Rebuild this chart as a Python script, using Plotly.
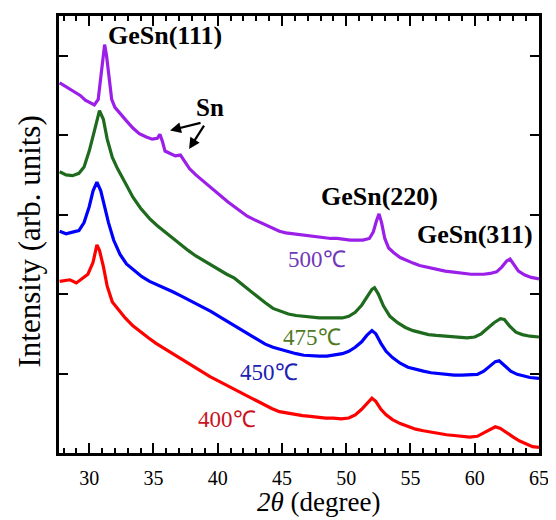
import plotly.graph_objects as go

# ---------------- data ----------------
x_400 = [27.7, 28.5, 29.0, 29.5, 29.9, 30.3, 30.6, 30.8, 31.1, 31.4, 31.8, 32.3, 32.8, 33.4, 34.0,
         34.6, 35.2, 35.8, 36.4, 37.0, 37.6, 38.2, 38.8, 39.4, 40.0, 40.6, 41.2, 41.8, 42.4, 43.0,
         43.6, 44.2, 44.8, 45.4, 46.0, 46.6, 47.2, 47.8, 48.4, 49.0, 49.6, 50.2, 50.7, 51.2, 51.6,
         52.0, 52.3, 52.7, 53.1, 53.6, 54.2, 54.8, 55.4, 56.0, 56.6, 57.2, 57.8, 58.4, 59.0, 59.6,
         60.2, 60.7, 61.2, 61.6, 62.0, 62.5, 63.0, 63.5, 64.0, 64.5, 65.0]
y_400 = [2.16, 2.18, 2.14, 2.20, 2.25, 2.40, 2.62, 2.55, 2.35, 2.10, 1.90, 1.80, 1.70, 1.60, 1.52,
         1.45, 1.38, 1.32, 1.25, 1.20, 1.14, 1.08, 1.02, 0.96, 0.91, 0.86, 0.80, 0.75, 0.70, 0.65,
         0.60, 0.56, 0.52, 0.50, 0.48, 0.47, 0.46, 0.45, 0.44, 0.44, 0.43, 0.44, 0.48, 0.55, 0.62,
         0.69, 0.65, 0.55, 0.48, 0.42, 0.37, 0.33, 0.30, 0.28, 0.26, 0.25, 0.23, 0.22, 0.21, 0.20,
         0.21, 0.25, 0.30, 0.33, 0.31, 0.25, 0.20, 0.15, 0.11, 0.08, 0.07]

x_450 = [27.7, 28.2, 28.7, 29.2, 29.6, 30.0, 30.3, 30.6, 30.9, 31.2, 31.5, 31.9, 32.4, 32.9, 33.5,
         34.1, 34.7, 35.3, 35.9, 36.5, 37.1, 37.7, 38.3, 38.9, 39.5, 40.1, 40.7, 41.3, 41.9, 42.5,
         43.1, 43.7, 44.3, 44.9, 45.5, 46.1, 46.7, 47.3, 47.9, 48.5, 49.1, 49.7, 50.2, 50.7, 51.2,
         51.6, 52.0, 52.3, 52.7, 53.1, 53.6, 54.2, 54.8, 55.4, 56.0, 56.6, 57.2, 57.8, 58.4, 59.0,
         59.6, 60.2, 60.7, 61.2, 61.6, 61.9, 62.3, 62.8, 63.3, 63.8, 64.3, 65.0]
y_450 = [2.79, 2.76, 2.78, 2.80, 2.90, 3.10, 3.30, 3.41, 3.30, 3.10, 2.90, 2.68, 2.50, 2.38, 2.30,
         2.22, 2.16, 2.12, 2.08, 2.03, 1.98, 1.93, 1.89, 1.84, 1.78, 1.72, 1.66, 1.60, 1.54, 1.48,
         1.42, 1.37, 1.33, 1.30, 1.27, 1.25, 1.23, 1.22, 1.22, 1.22, 1.23, 1.25, 1.28, 1.33, 1.40,
         1.48, 1.54, 1.50, 1.38, 1.28, 1.20, 1.13, 1.08, 1.05, 1.03, 1.01, 1.00, 0.99, 0.98, 0.98,
         0.98, 0.99, 1.03, 1.10, 1.15, 1.16, 1.10, 1.03, 0.99, 0.97, 0.95, 0.94]

x_475 = [27.7, 28.2, 28.7, 29.2, 29.6, 30.0, 30.4, 30.8, 31.1, 31.4, 31.8, 32.2, 32.8, 33.4, 34.0,
         34.7, 35.3, 35.9, 36.5, 37.1, 37.7, 38.3, 38.9, 39.5, 40.1, 40.7, 41.3, 41.9, 42.5, 43.1,
         43.7, 44.3, 44.9, 45.5, 46.1, 46.7, 47.3, 47.9, 48.5, 49.1, 49.7, 50.2, 50.7, 51.2, 51.6,
         52.0, 52.2, 52.5, 52.9, 53.4, 54.0, 54.6, 55.2, 55.8, 56.4, 57.0, 57.6, 58.2, 58.8, 59.4,
         60.0, 60.5, 61.0, 61.5, 62.0, 62.3, 62.7, 63.2, 63.7, 64.3, 65.0]
y_475 = [3.54, 3.50, 3.49, 3.52, 3.60, 3.80, 4.05, 4.31, 4.20, 3.95, 3.72, 3.58, 3.40, 3.22, 3.08,
         2.95, 2.86, 2.78, 2.70, 2.62, 2.55, 2.48, 2.42, 2.36, 2.30, 2.25, 2.20, 2.12, 2.05, 1.97,
         1.89, 1.82, 1.78, 1.75, 1.73, 1.72, 1.71, 1.70, 1.70, 1.70, 1.70, 1.72, 1.77, 1.86, 1.96,
         2.06, 2.08, 2.00, 1.85, 1.72, 1.64, 1.58, 1.54, 1.51, 1.49, 1.48, 1.47, 1.46, 1.45, 1.45,
         1.46, 1.50, 1.57, 1.64, 1.69, 1.68, 1.60, 1.52, 1.49, 1.47, 1.46]

x_500 = [27.7, 28.1, 28.5, 28.9, 29.3, 29.7, 30.1, 30.4, 30.7, 30.9, 31.1, 31.2, 31.35, 31.55, 31.75,
         32.0, 32.4, 32.9, 33.4, 33.9, 34.4, 34.9, 35.3, 35.5, 35.7, 35.9, 36.3, 36.7, 37.1, 37.4,
         37.8, 38.3, 38.8, 39.3, 39.8, 40.3, 40.8, 41.3, 41.8, 42.3, 42.8, 43.3, 43.8, 44.3, 44.8,
         45.3, 45.8, 46.3, 46.8, 47.3, 47.8, 48.3, 48.8, 49.3, 49.8, 50.3, 50.8, 51.3, 51.8, 52.1,
         52.35, 52.55, 52.75, 53.0, 53.3, 53.7, 54.2, 54.7, 55.2, 55.7, 56.2, 56.7, 57.2, 57.7, 58.2,
         58.7, 59.2, 59.7, 60.2, 60.7, 61.2, 61.7, 62.1, 62.5, 62.75, 63.0, 63.4, 63.9, 64.4, 65.0]
y_500 = [4.66, 4.62, 4.58, 4.55, 4.50, 4.44, 4.40, 4.38, 4.45, 4.70, 5.00, 5.14, 5.00, 4.70, 4.45,
         4.35, 4.27, 4.18, 4.09, 4.02, 3.98, 3.95, 3.96, 4.01, 3.92, 3.80, 3.77, 3.74, 3.75, 3.68,
         3.58, 3.50, 3.43, 3.36, 3.29, 3.23, 3.16, 3.10, 3.04, 2.98, 2.94, 2.90, 2.86, 2.82, 2.79,
         2.77, 2.76, 2.75, 2.74, 2.73, 2.72, 2.71, 2.70, 2.70, 2.69, 2.68, 2.68, 2.68, 2.70, 2.78,
         2.92, 3.01, 2.90, 2.70, 2.58, 2.52, 2.46, 2.42, 2.39, 2.36, 2.34, 2.32, 2.30, 2.29, 2.28,
         2.27, 2.26, 2.25, 2.25, 2.25, 2.26, 2.28, 2.34, 2.42, 2.44, 2.38, 2.29, 2.24, 2.21, 2.19]

x_ticks = [30, 35, 40, 45, 50, 55, 60, 65]
temp_labels = ["400℃", "450℃", "475℃", "500℃"]
peak_labels = ["GeSn(111)", "GeSn(220)", "GeSn(311)"]

# ---------------- figure ----------------
FONT = "Liberation Serif, Times New Roman, serif"
series = [
    (x_400, y_400, "#FF0000"),
    (x_450, y_450, "#0000FF"),
    (x_475, y_475, "#1E6B1E"),
    (x_500, y_500, "#9B1FE8"),
]

fig = go.Figure()
for xs, ys, col in series:
    fig.add_trace(go.Scatter(x=xs, y=ys, mode="lines",
                             line=dict(color=col, width=3.2), showlegend=False))

ann = []
for txt, (xx, yy) in zip(peak_labels, [(35.9, 5.25), (52.55, 3.225), (60.02, 2.75)]):
    ann.append(dict(x=xx, y=yy, xref="x", yref="y", text="<b>" + txt + "</b>", showarrow=False,
                    font=dict(family=FONT, size=26, color="black")))
ann.append(dict(x=39.4, y=4.35, xref="x", yref="y", text="<b>Sn</b>", showarrow=False,
                font=dict(family=FONT, size=25, color="black")))
for (hx, hy, tx, ty) in [(36.29, 4.06, 38.78, 4.16), (37.77, 3.825, 39.01, 4.14)]:
    ann.append(dict(x=hx, y=hy, ax=tx, ay=ty, xref="x", yref="y", axref="x", ayref="y",
                    text="", showarrow=True, arrowhead=2, arrowsize=1, arrowwidth=2.2,
                    arrowcolor="black"))
temp_pos = [(40.72, 0.425), (43.99, 1.01), (47.34, 1.46), (47.73, 2.44)]
temp_cols = ["#C8141E", "#2020B0", "#4F7A1F", "#7038B8"]
for txt, (xx, yy), col in zip(temp_labels, temp_pos, temp_cols):
    ann.append(dict(x=xx, y=yy, xref="x", yref="y", text=txt, showarrow=False,
                    font=dict(family=FONT, size=23, color=col)))
ann.append(dict(x=-0.0625, y=0.484, xref="paper", yref="paper", text="Intensity (arb. units)",
                textangle=-90, showarrow=False, xanchor="center", yanchor="middle",
                font=dict(family=FONT, size=31, color="black")))
ann.append(dict(x=0.54, y=-0.152, xref="paper", yref="paper", text="<i>2θ</i> (degree)",
                showarrow=False, xanchor="center", yanchor="bottom",
                font=dict(family=FONT, size=27, color="black")))

# the page body has an 8px margin, so the figure is shrunk by 8px and margins adjusted
fig.update_layout(
    width=548, height=512,
    margin=dict(l=51, r=17, t=5, b=67),
    plot_bgcolor="white", paper_bgcolor="white",
    annotations=ann,
    xaxis=dict(range=[27.65, 65], tickvals=x_ticks, ticks="inside", ticklen=10, tickwidth=2,
               tickcolor="black", showline=True, linewidth=2.5, linecolor="black", mirror="ticks",
               showgrid=False, zeroline=False, ticklabelstandoff=5,
               tickfont=dict(family=FONT, size=20, color="black"),
               minor=dict(dtick=1, ticks="inside", ticklen=5, tickwidth=2, tickcolor="black",
                          showgrid=False)),
    yaxis=dict(range=[0, 5.5], tickvals=[1, 2, 3, 4, 5], ticks="inside", ticklen=9, tickwidth=2,
               tickcolor="black", showticklabels=False, showline=True, linewidth=2.5,
               linecolor="black", mirror="ticks", showgrid=False, zeroline=False),
)

fig.write_html("out.html")
